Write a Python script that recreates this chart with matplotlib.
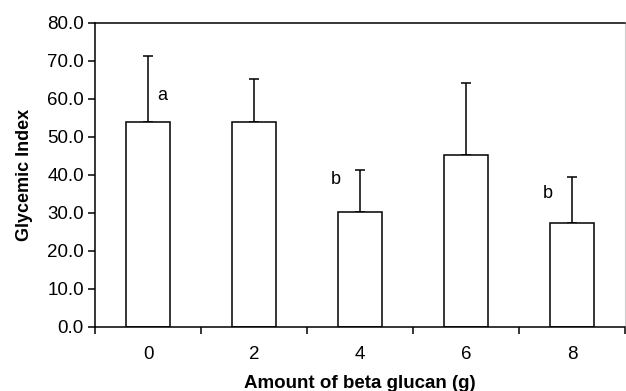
import matplotlib
matplotlib.use("Agg")
import matplotlib.pyplot as plt
import numpy as np

plt.rcParams['font.family'] = ['Liberation Sans', 'DejaVu Sans']

categories = ["0", "2", "4", "6", "8"]
means = [54.0, 54.0, 30.3, 45.3, 27.4]
errors = [17.2, 11.2, 11.0, 18.9, 12.2]
letters = ["a", "", "b", "", "b"]
letter_x = [0.13, 0, 1.77, 0, 3.77]
letter_y = [60.8, 0, 38.7, 0, 35.0]
yticks = [0, 10, 20, 30, 40, 50, 60, 70, 80]

fig = plt.figure(figsize=(6.26, 3.91), dpi=100)
ax = fig.add_axes([0.1518, 0.1637, 0.8466, 0.7775])

x = np.arange(len(categories))
ax.bar(x, means, width=0.41, color='white', edgecolor='black', linewidth=1.1, zorder=2)
ax.errorbar(x, means, yerr=[np.zeros(len(errors)), errors], fmt='none',
            ecolor='black', elinewidth=1.1, capsize=3.6, capthick=1.1, zorder=1)

for lab, lx, ly in zip(letters, letter_x, letter_y):
    if lab:
        ax.text(lx, ly, lab, ha='center', va='center', fontsize=13)

ax.set_xlim(-0.5, 4.5)
ax.set_ylim(0, 80)
ax.set_yticks(yticks)
ax.set_yticklabels([f"{v:.1f}" for v in yticks], fontsize=13.5)
ax.set_xticks(x)
ax.set_xticklabels(categories, fontsize=13.5)
ax.tick_params(axis='x', length=0, pad=14)
ax.set_xticks(np.arange(-0.5, 4.6, 1.0), minor=True)
ax.tick_params(axis='x', which='minor', length=5, width=1.1, direction='out')
ax.tick_params(axis='y', length=5, width=1.1, direction='out', pad=3)

for s in ['left', 'bottom', 'top']:
    ax.spines[s].set_linewidth(1.1)
ax.spines['right'].set_color('#cccccc')
ax.spines['right'].set_linewidth(0.8)

ax.set_xlabel("Amount of beta glucan (g)", fontsize=13.5, fontweight='bold', labelpad=8)
ax.set_ylabel("Glycemic Index", fontsize=13, fontweight='bold', labelpad=10)

fig.savefig("out.png", dpi=100)
